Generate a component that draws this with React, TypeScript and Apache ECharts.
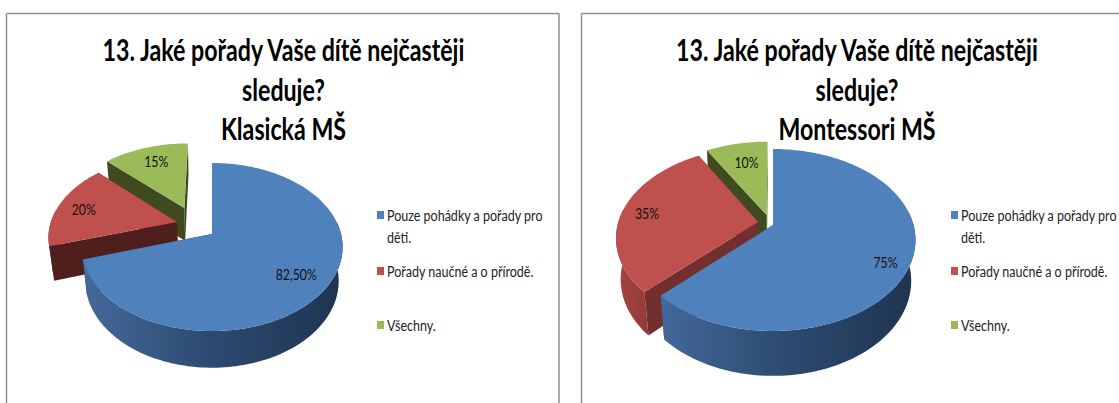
import React, { useEffect, useRef } from "react";
import * as echarts from "echarts";

const categories = ["Pouze pohádky a pořady pro děti.", "Pořady naučné a o přírodě.", "Všechny."];
const legendLines = [["Pouze pohádky a pořady pro", "děti."], ["Pořady naučné a o přírodě."], ["Všechny."]];
const titleLines = ["13. Jaké pořady Vaše dítě nejčastěji", "sleduje?"];
const subtitles = ["Klasická MŠ", "Montessori MŠ"];
const klasickaValues = [82.5, 20, 15];
const montessoriValues = [75, 35, 10];
const klasickaLabels = ["82,50%", "20%", "15%"];
const montessoriLabels = ["75%", "35%", "10%"];
const swatches = ["#4f81bd", "#c0504d", "#9bbb59"];

const FONT = "Lato, 'Open Sans', sans-serif";
const DRAW_ORDER = [2, 1, 0];

const layouts = [
  {
    cx: 212, cy: 234, R: 129, Ry: 82, k: 0.155, h: 0.03, D: 35,
    explode: [[0, 0], [-0.278, 0.15], [-0.225, 0.333]],
    nudge: [[-3, -1], [-1, 1], [3, 1]],
    cut: ["#2a4466", "#4f1f1e", "#3f4a21"],
    rim: [["#44699a", "#2c4a70", "#1f3450"], ["#4f1f1e", "#4f1f1e", "#4f1f1e"], ["#3f4a21", "#3f4a21", "#3f4a21"]],
  },
  {
    cx: 773, cy: 225, R: 140.5, Ry: 88.5, k: 0.165, h: 0.03, D: 42,
    explode: [[0, 0], [-0.107, 0.034], [-0.046, 0.115]],
    nudge: [[6, 9], [-5, 0], [4, 4]],
    cut: ["#2a4466", "#732f2e", "#3f4a21"],
    rim: [["#43689a", "#2c4a70", "#1f3450"], ["#a64543", "#9c3f3d", "#923a38"], ["#3f4a21", "#3f4a21", "#3f4a21"]],
  },
];

const rad = (d: number) => (d * Math.PI) / 180;

function makeRenderItem(values: number[], labels: string[], L: any) {
  const total = values.reduce((a, b) => a + b, 0);
  const top = (u: number, v: number) => {
    const w = 1 + L.k * v;
    return [L.cx + (L.R * u) / w, L.cy - (L.Ry * v) / w];
  };
  const bottom = (u: number, v: number) => {
    const w = 1 + L.k * v + L.h;
    return [L.cx + (L.R * u) / w, L.cy + (-L.Ry * v + L.D) / w];
  };
  return (params: any) => {
    const i = DRAW_ORDER[params.dataIndex];
    let start = 0;
    for (let j = 0; j < i; j++) start += (values[j] / total) * 360;
    const end = start + (values[i] / total) * 360;
    const [ou, ov] = L.explode[i];
    const pt = (a: number, t = 1): [number, number] => [ou + t * Math.sin(rad(a)), ov + t * Math.cos(rad(a))];
    const arc = (a0: number, a1: number, fn: any) => {
      const out: number[][] = [];
      const n = Math.max(2, Math.ceil(Math.abs(a1 - a0) / 1.5));
      for (let s = 0; s <= n; s++) {
        const [u, v] = pt(a0 + ((a1 - a0) * s) / n);
        out.push(fn(u, v));
      }
      return out;
    };
    const children: any[] = [];
    const face = (a: number) => {
      const [u, v] = pt(a);
      children.push({
        type: "polygon",
        shape: { points: [top(ou, ov), top(u, v), bottom(u, v), bottom(ou, ov)] },
        style: { fill: L.cut[i] },
        silent: true,
      });
    };
    face(end);
    face(start);
    const r0 = Math.max(start, 81);
    const r1 = Math.min(end, 279);
    if (r1 > r0) {
      const [c0, c1, c2] = L.rim[i];
      children.push({
        type: "polygon",
        shape: { points: [...arc(r0, r1, top), ...arc(r1, r0, bottom)] },
        style: {
          // the bounding box runs left to right, lit side first
          fill: new echarts.graphic.LinearGradient(0, 0, 1, 0, [
            { offset: 0, color: c0 },
            { offset: 0.5, color: c1 },
            { offset: 1, color: c2 },
          ]),
        },
        silent: true,
      });
    }
    children.push({
      type: "polygon",
      shape: { points: [top(ou, ov), ...arc(start, end, top)] },
      style: { fill: swatches[i] },
      silent: true,
    });
    const [lu, lv] = pt((start + end) / 2, 0.78);
    const [lx, ly] = top(lu, lv);
    children.push({
      type: "text",
      x: lx + L.nudge[i][0],
      y: ly + L.nudge[i][1],
      scaleX: 0.82,
      style: {
        text: labels[i],
        fill: "#111",
        font: `15px ${FONT}`,
        align: "center",
        verticalAlign: "middle",
      },
      silent: true,
      z2: 10,
    });
    return { type: "group", children };
  };
}

function buildSeries(values: number[], labels: string[], L: any) {
  return {
    type: "custom",
    coordinateSystem: "none",
    silent: true,
    clip: false,
    renderItem: makeRenderItem(values, labels, L),
    data: DRAW_ORDER.map((i) => ({ value: values[i], name: categories[i] })),
  };
}

function buildGraphic() {
  const els: any[] = [];
  const line = (x1: number, y1: number, x2: number, y2: number) =>
    els.push({ type: "line", shape: { x1, y1, x2, y2 }, style: { stroke: "#8f8f8f", lineWidth: 1.5 } });
  line(6.5, 13.5, 559, 13.5);
  line(6.5, 13.5, 6.5, 403);
  line(559, 13.5, 559, 403);
  line(581.5, 13.5, 1119, 13.5);
  line(581.5, 13.5, 581.5, 403);

  const titleCentres = [283.5, 857];
  const legendX = [377, 951];
  const legendRows = [[215, 237], [271], [325]];
  titleCentres.forEach((cx, c) => {
    [...titleLines, subtitles[c]].forEach((t, n) => {
      els.push({
        type: "text",
        x: cx,
        y: 50 + n * 39.5,
        scaleX: 0.773,
        style: {
          text: t,
          fill: "#000",
          font: `bold 30px ${FONT}`,
          align: "center",
          verticalAlign: "middle",
        },
      });
    });
    legendLines.forEach((ls, i) => {
      els.push({
        type: "rect",
        shape: { x: legendX[c], y: legendRows[i][0] - 4, width: 7, height: 8 },
        style: { fill: swatches[i] },
      });
      ls.forEach((t, j) => {
        els.push({
          type: "text",
          x: legendX[c] + 10,
          y: legendRows[i][j],
          scaleX: 0.835,
          style: { text: t, fill: "#222", font: `15px ${FONT}`, align: "left", verticalAlign: "middle" },
        });
      });
    });
  });
  return els;
}

export default function App() {
  const ref = useRef<HTMLDivElement>(null);
  useEffect(() => {
    const chart = echarts.init(ref.current!, undefined, { renderer: "svg" });
    chart.setOption({
      animation: false,
      backgroundColor: "#ffffff",
      series: [
        buildSeries(klasickaValues, klasickaLabels, layouts[0]),
        buildSeries(montessoriValues, montessoriLabels, layouts[1]),
      ],
      graphic: buildGraphic(),
    });
    return () => chart.dispose();
  }, []);
  return <div ref={ref} style={{ position: "fixed", left: 0, top: 0, width: 1119, height: 403 }} />;
}
